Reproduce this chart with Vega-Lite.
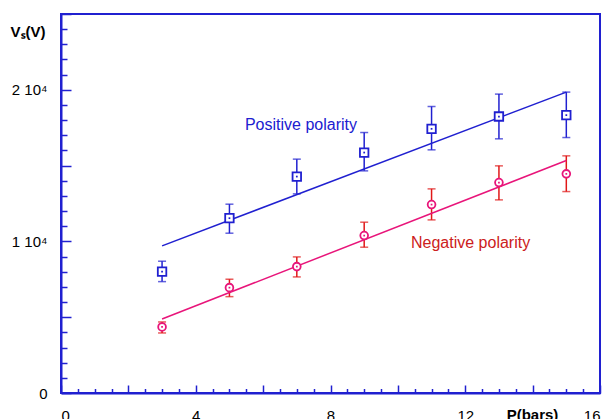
{
  "$schema": "https://vega.github.io/schema/vega-lite/v6.json",
  "width": 539,
  "height": 379,
  "autosize": {"type": "none"},
  "padding": {"left": 61, "top": 14, "right": 10, "bottom": 26},
  "background": "white",
  "config": {
    "view": {"stroke": "#2020d0", "strokeWidth": 2},
    "font": "Liberation Sans",
    "axis": {"grid": false, "domainColor": "#2020d0", "tickColor": "#2020d0", "labelColor": "black", "labelFont": "Liberation Sans", "labelFontSize": 15, "titleFont": "Liberation Sans"}
  },
  "datasets": {
    "pts": [
      {"series": "Positive", "p": 3, "v": 8007, "lo": 7347, "hi": 8693},
      {"series": "Positive", "p": 5, "v": 11531, "lo": 10541, "hi": 12455},
      {"series": "Positive", "p": 7, "v": 14277, "lo": 13135, "hi": 15426},
      {"series": "Positive", "p": 9, "v": 15861, "lo": 14653, "hi": 17182},
      {"series": "Positive", "p": 11, "v": 17426, "lo": 16040, "hi": 18898},
      {"series": "Positive", "p": 13, "v": 18238, "lo": 16766, "hi": 19716},
      {"series": "Positive", "p": 15, "v": 18330, "lo": 16851, "hi": 19848},
      {"series": "Negative", "p": 3, "v": 4356, "lo": 3960, "hi": 4686},
      {"series": "Negative", "p": 5, "v": 6950, "lo": 6356, "hi": 7505},
      {"series": "Negative", "p": 7, "v": 8337, "lo": 7657, "hi": 8977},
      {"series": "Negative", "p": 9, "v": 10383, "lo": 9617, "hi": 11267},
      {"series": "Negative", "p": 11, "v": 12429, "lo": 11419, "hi": 13465},
      {"series": "Negative", "p": 13, "v": 13881, "lo": 12739, "hi": 14983},
      {"series": "Negative", "p": 15, "v": 14455, "lo": 13287, "hi": 15644}
    ],
    "fit": [
      {"series": "Positive", "p": 3, "v": 9703},
      {"series": "Positive", "p": 15, "v": 19848},
      {"series": "Negative", "p": 3, "v": 4884},
      {"series": "Negative", "p": 15, "v": 15333}
    ],
    "notes": [
      {"series": "Positive", "p": 5.46, "v": 17690, "text": "Positive polarity"},
      {"series": "Negative", "p": 10.39, "v": 9901, "text": "Negative polarity"}
    ]
  },
  "resolve": {"axis": {"x": "independent", "y": "independent"}, "scale": {"color": "independent"}},
  "layer": [
    {
      "data": {"name": "pts"},
      "mark": {"type": "rule", "strokeWidth": 1.5},
      "encoding": {
        "x": {"field": "p", "type": "quantitative", "scale": {"domain": [0, 16], "nice": false},
          "axis": {"orient": "bottom", "values": [0, 4, 8, 12, 16], "ticks": false, "domain": false, "labelPadding": 15, "labelBaseline": "top",
            "title": "P(bars)", "titleFontWeight": "bold", "titleFontSize": 15, "titleX": 471, "titleY": 14, "titleBaseline": "top", "titleAlign": "center", "titleColor": "black"}},
        "y": {"field": "lo", "type": "quantitative", "scale": {"domain": [0, 25000], "nice": false, "zero": true},
          "axis": {"orient": "left", "values": [0, 10000, 20000], "ticks": false, "domain": false, "labelPadding": 14,
            "labelExpr": "datum.value == 0 ? '0' : (datum.value / 10000) + ' 10⁴'",
            "title": "Vₛ(V)", "titleAngle": 0, "titleFontWeight": "bold", "titleFontSize": 15, "titleColor": "black", "titleAlign": "left", "titleBaseline": "alphabetic", "titleX": -51, "titleY": 22}},
        "y2": {"field": "hi"},
        "color": {"field": "series", "type": "nominal", "scale": {"domain": ["Positive", "Negative"], "range": ["#2020d0", "#e01818"]}, "legend": null}
      }
    },
    {
      "data": {"name": "pts"},
      "mark": {"type": "tick", "orient": "horizontal", "size": 8, "thickness": 1.5},
      "encoding": {
        "x": {"field": "p", "type": "quantitative", "scale": {"domain": [0, 16], "nice": false},
          "axis": {"orient": "bottom", "values": [0, 2, 4, 6, 8, 10, 12, 14, 16], "labels": false, "tickSize": -8, "tickWidth": 1.5, "domainWidth": 2, "title": null}},
        "y": {"field": "hi", "type": "quantitative", "scale": {"domain": [0, 25000], "nice": false},
          "axis": {"orient": "left", "values": [0, 5000, 10000, 15000, 20000, 25000], "labels": false, "tickSize": -10, "tickWidth": 1.5, "domainWidth": 2, "title": null}},
        "color": {"field": "series", "type": "nominal", "scale": {"domain": ["Positive", "Negative"], "range": ["#2020d0", "#e01818"]}, "legend": null}
      }
    },
    {
      "data": {"name": "pts"},
      "mark": {"type": "tick", "orient": "horizontal", "size": 8, "thickness": 1.5},
      "encoding": {
        "x": {"field": "p", "type": "quantitative", "scale": {"domain": [0, 16], "nice": false},
          "axis": {"orient": "bottom", "values": [0.5, 1, 1.5, 2.5, 3, 3.5, 4.5, 5, 5.5, 6.5, 7, 7.5, 8.5, 9, 9.5, 10.5, 11, 11.5, 12.5, 13, 13.5, 14.5, 15, 15.5], "labels": false, "tickSize": -4.5, "tickWidth": 1.5, "domain": false, "title": null}},
        "y": {"field": "lo", "type": "quantitative", "scale": {"domain": [0, 25000], "nice": false},
          "axis": {"orient": "left", "values": [1000, 2000, 3000, 4000, 6000, 7000, 8000, 9000, 11000, 12000, 13000, 14000, 16000, 17000, 18000, 19000, 21000, 22000, 23000, 24000], "labels": false, "tickSize": -6, "tickWidth": 1.5, "domain": false, "title": null}},
        "color": {"field": "series", "type": "nominal", "scale": {"domain": ["Positive", "Negative"], "range": ["#2020d0", "#e01818"]}, "legend": null}
      }
    },
    {
      "data": {"name": "fit"},
      "mark": {"type": "line", "strokeWidth": 1.5},
      "encoding": {
        "x": {"field": "p", "type": "quantitative", "scale": {"domain": [0, 16], "nice": false}, "axis": null},
        "y": {"field": "v", "type": "quantitative", "scale": {"domain": [0, 25000], "nice": false}, "axis": null},
        "detail": {"field": "series"},
        "color": {"field": "series", "type": "nominal", "scale": {"domain": ["Positive", "Negative"], "range": ["#2020d0", "#e8157a"]}, "legend": null}
      }
    },
    {
      "data": {"name": "pts"},
      "mark": {"type": "point", "filled": false, "strokeWidth": 1.8, "opacity": 1, "fill": "white", "fillOpacity": 1},
      "encoding": {
        "x": {"field": "p", "type": "quantitative", "scale": {"domain": [0, 16], "nice": false}, "axis": null},
        "y": {"field": "v", "type": "quantitative", "scale": {"domain": [0, 25000], "nice": false}, "axis": null},
        "shape": {"field": "series", "type": "nominal", "scale": {"domain": ["Positive", "Negative"], "range": ["square", "circle"]}, "legend": null},
        "size": {"field": "series", "type": "nominal", "scale": {"domain": ["Positive", "Negative"], "range": [72, 60]}, "legend": null},
        "color": {"field": "series", "type": "nominal", "scale": {"domain": ["Positive", "Negative"], "range": ["#2020d0", "#e8157a"]}, "legend": null}
      }
    },
    {
      "data": {"name": "pts"},
      "mark": {"type": "square", "size": 3, "opacity": 1},
      "encoding": {
        "x": {"field": "p", "type": "quantitative", "scale": {"domain": [0, 16], "nice": false}, "axis": null},
        "y": {"field": "v", "type": "quantitative", "scale": {"domain": [0, 25000], "nice": false}, "axis": null},
        "color": {"field": "series", "type": "nominal", "scale": {"domain": ["Positive", "Negative"], "range": ["#2020d0", "#e8157a"]}, "legend": null}
      }
    },
    {
      "data": {"name": "notes"},
      "mark": {"type": "text", "align": "left", "baseline": "middle", "fontSize": 16, "font": "Liberation Sans"},
      "encoding": {
        "x": {"field": "p", "type": "quantitative", "scale": {"domain": [0, 16], "nice": false}, "axis": null},
        "y": {"field": "v", "type": "quantitative", "scale": {"domain": [0, 25000], "nice": false}, "axis": null},
        "text": {"field": "text"},
        "color": {"field": "series", "type": "nominal", "scale": {"domain": ["Positive", "Negative"], "range": ["#2020d0", "#cc2020"]}, "legend": null}
      }
    }
  ]
}
